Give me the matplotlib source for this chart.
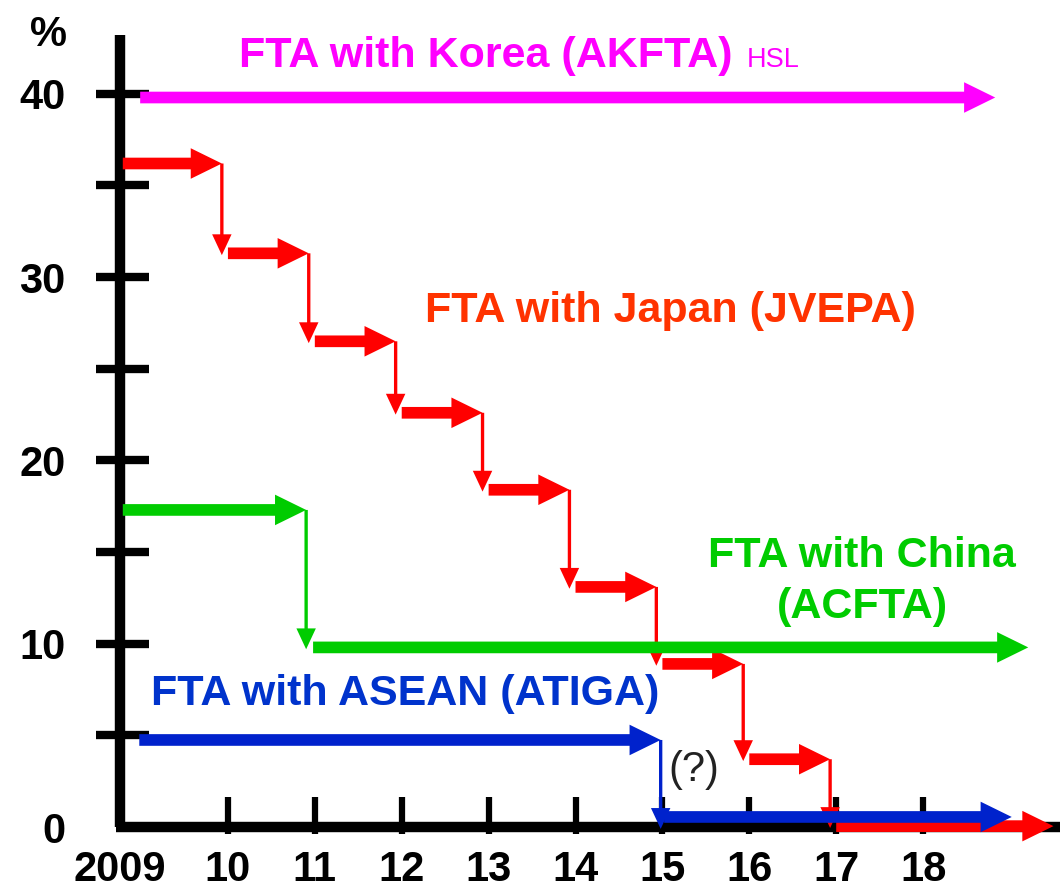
import matplotlib
matplotlib.use("Agg")
import matplotlib.pyplot as plt
from matplotlib.patches import FancyArrowPatch, ArrowStyle

plt.rcParams['font.family'] = ['Liberation Sans', 'DejaVu Sans']

# tariff schedule (%), one level per year starting 2009
japan_years = [2009, 2010, 2011, 2012, 2013, 2014, 2015, 2016, 2017]
japan_rate = [36.2, 31.3, 26.5, 22.6, 18.4, 13.1, 8.9, 3.7, 0.05]
china_years = [2009, 2011]
china_rate = [17.3, 9.8]
asean_years = [2009, 2015]
asean_rate = [4.75, 0.55]
korea_rate = 39.8

x_ticks = [2010, 2011, 2012, 2013, 2014, 2015, 2016, 2017, 2018]
x_labels = ['10', '11', '12', '13', '14', '15', '16', '17', '18']
y_ticks = [0, 5, 10, 15, 20, 25, 30, 35, 40]
y_labels = {0: '0', 10: '10', 20: '20', 30: '30', 40: '40'}

x_axis = 2008.76
x_end = 2019.58
y_top = 43.2

fig = plt.figure(figsize=(10.63, 8.89), dpi=100)
ax = fig.add_axes([0, 0, 1, 1])
ax.set_xlim(2007.377, 2019.61)
ax.set_ylim(-3.38, 45.12)
ax.axis('off')

thick = ArrowStyle('simple', head_length=0.56, head_width=0.55, tail_width=0.21)
thin = ArrowStyle('simple', head_length=0.75, head_width=0.7, tail_width=0.12)


def h_arrow(x0, x1, y, color, z=3):
    ax.add_patch(FancyArrowPatch((x0, y), (x1, y), arrowstyle=thick,
                                 mutation_scale=40, color=color, lw=0,
                                 shrinkA=0, shrinkB=0, zorder=z))


def v_arrow(x, y0, y1, color, z=3):
    ax.add_patch(FancyArrowPatch((x, y0), (x, y1), arrowstyle=thin,
                                 mutation_scale=20, color=color, lw=0,
                                 shrinkA=0, shrinkB=0, zorder=z))


# axes drawn by hand
ax.plot([x_axis, x_axis], [0, y_top], color='black', lw=7.5, solid_capstyle='butt', zorder=2)
ax.plot([x_axis - 0.05, x_end], [0, 0], color='black', lw=7.5, solid_capstyle='butt', zorder=2)
for yt in y_ticks[1:]:
    ax.plot([x_axis - 0.28, x_axis + 0.33], [yt, yt], color='black', lw=6,
            solid_capstyle='butt', zorder=2)
for xt in x_ticks:
    ax.plot([xt, xt], [-0.4, 1.65], color='black', lw=4.5, solid_capstyle='butt', zorder=2)

tick_font = dict(fontsize=30, fontweight='bold', va='baseline')
for yt, lab in y_labels.items():
    ax.text(2008.13, yt - 0.85, lab, ha='right', **tick_font)
ax.text(2008.15, 42.6, '%', ha='right', **tick_font)
ax.text(x_axis, -2.95, '2009', ha='center', **tick_font)
for xt, lab in zip(x_ticks, x_labels):
    ax.text(xt, -2.95, lab, ha='center', **tick_font)

# Korea: flat at the top
h_arrow(2008.99, 2018.83, korea_rate, '#ff00ff')

# Japan: yearly steps down to zero
red = '#ff0000'
for i, (yr, rate) in enumerate(zip(japan_years, japan_rate)):
    start = x_axis + 0.03 if i == 0 else yr + 0.0
    if i == len(japan_years) - 1:
        h_arrow(start, 2019.5, rate, red, z=3)
    else:
        tip = japan_years[i + 1] - 0.07
        h_arrow(start, tip, rate, red)
        v_arrow(tip, rate, japan_rate[i + 1] - 0.1, red)

# China
green = '#00cc00'
h_arrow(x_axis + 0.03, china_years[1] - 0.1, china_rate[0], green)
v_arrow(china_years[1] - 0.1, china_rate[0], china_rate[1] - 0.1, green)
h_arrow(china_years[1] - 0.02, 2019.21, china_rate[1], green)

# ASEAN
blue = '#0022cc'
h_arrow(2008.98, asean_years[1] - 0.02, asean_rate[0], blue)
v_arrow(asean_years[1] - 0.02, asean_rate[0], -0.1, blue, z=4)
h_arrow(asean_years[1] + 0.02, 2019.02, asean_rate[1], blue, z=4)

# labels
label_font = dict(fontsize=31, fontweight='bold', ha='center', va='baseline')
ax.text(2012.97, 41.46, 'FTA with Korea (AKFTA)', color='#ff00ff', **label_font)
ax.text(2015.97, 41.48, 'HSL', color='#ff00ff', fontsize=19.5, ha='left', va='baseline')
ax.text(2015.09, 27.55, 'FTA with Japan (JVEPA)', color='#ff3300', **label_font)
ax.text(2017.3, 14.18, 'FTA with China', color='#00cc00', **label_font)
ax.text(2017.3, 11.4, '(ACFTA)', color='#00cc00', **label_font)
ax.text(2012.04, 6.66, 'FTA with ASEAN (ATIGA)', color='#0033cc', **label_font)
ax.text(2015.36, 2.5, '(?)', color='#222222', fontsize=30, ha='center', va='baseline')

fig.savefig('out.png', dpi=100)
